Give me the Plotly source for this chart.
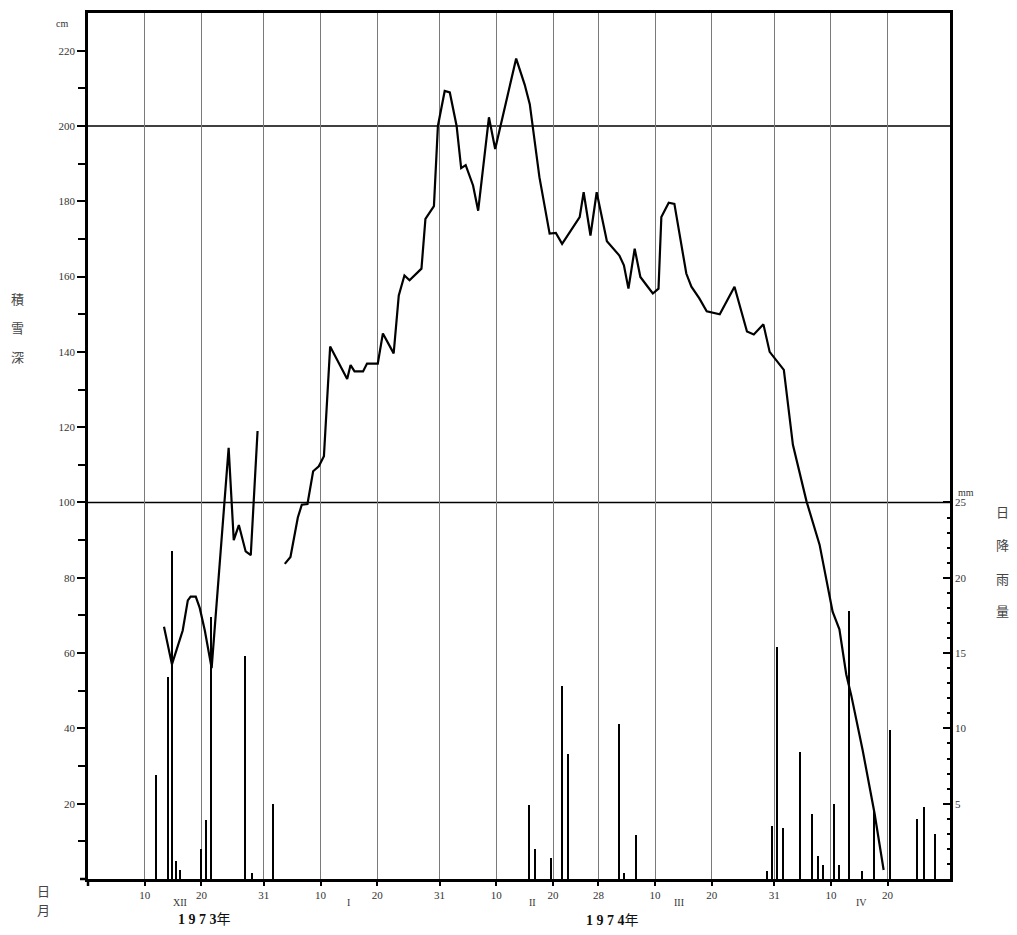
import plotly.graph_objects as go

# Day index: 1 = 1 Dec 1973, 32 = 1 Jan 1974, ... (axis spans day 0 to 152)
# Snow depth (cm), two observation runs
depth_days_a = [13.4, 14.8, 16.7, 17.6, 18.1, 19.0, 19.7, 20.6, 21.8, 24.8, 25.7, 26.6, 27.8, 28.7, 29.9]
depth_cm_a = [67, 57, 66, 74, 75, 75, 72, 66, 56, 114.5, 90, 94, 87, 86, 119]

depth_days_b = [34.7, 35.7, 37.0, 37.7, 38.7, 39.7, 40.7, 41.6, 42.7, 45.7,
                46.3, 47.0, 48.5, 49.2, 51.1, 52.0, 53.9, 54.8, 55.8, 56.7,
                58.8, 59.5, 61.0, 61.7, 62.9, 63.8, 65.0, 65.8, 66.6, 67.9,
                68.8, 70.7, 71.8, 75.5, 77.0, 77.9, 79.6, 81.4, 82.5, 83.6,
                86.7, 87.4, 88.6, 89.7, 91.5, 93.7, 94.5, 95.3, 96.4, 97.4,
                98.7, 99.6, 100.6, 101.1, 102.4, 103.4, 105.5, 106.4, 107.8, 109.1,
                111.4, 114.0, 116.2, 117.4, 119.1, 120.2, 122.7, 124.3, 126.7, 129.0,
                131.3, 132.5, 133.7, 134.6, 136.6, 138.7, 140.3]
depth_cm_b = [83.7, 85.5, 96, 99.4, 99.6, 108.3, 109.6, 112.3, 141.4, 132.8,
              136.5, 134.8, 134.8, 136.9, 136.9, 144.9, 139.6, 155, 160.3, 159,
              162.1, 175.3, 178.7, 200, 209.3, 208.9, 200, 188.8, 189.6, 184.2,
              177.5, 202.3, 193.9, 217.9, 211, 205.8, 186.4, 171.4, 171.6, 168.7,
              175.8, 182.4, 170.9, 182.4, 169.4, 165.6, 163, 156.8, 167.4, 159.9,
              157.3, 155.5, 156.8, 175.8, 179.6, 179.3, 160.8, 157.3, 154.2, 150.8,
              150, 157.3, 145.4, 144.6, 147.3, 140, 135.2, 115.3, 100.3, 88.8,
              71, 66.3, 54.4, 48.7, 34.2, 17.4, 2.4]

# Daily precipitation (mm)
rain_days = [12.1, 14.1, 14.8, 15.5, 16.2, 19.9, 20.9, 21.8, 27.8, 29.0, 32.7,
             77.8, 78.8, 81.7, 83.7, 84.7, 93.6, 94.5, 96.7,
             119.7, 120.7, 121.6, 122.6, 125.6, 127.7, 128.7, 129.7, 131.5, 132.5,
             134.3, 136.6, 138.7, 141.4, 146.2, 147.4, 149.4]
rain_mm = [6.9, 13.4, 21.8, 1.2, 0.6, 2.0, 3.9, 17.4, 14.8, 0.4, 5.0,
           4.9, 2.0, 1.4, 12.8, 8.3, 10.3, 0.4, 2.9,
           0.5, 3.5, 15.4, 3.4, 8.4, 4.3, 1.5, 0.9, 5.0, 0.9,
           17.8, 0.5, 4.6, 9.9, 4.0, 4.8, 3.0]

# Date ticks (day index) and their labels
date_ticks = [10, 20, 31, 41, 51, 62, 72, 82, 90, 100, 110, 121, 131, 141]
date_labels = ["10", "20", "31", "10", "20", "31", "10", "20", "28", "10", "20", "31", "10", "20"]
month_pos = [16.2, 46.0, 78.4, 104.3, 136.4]
month_labels = ["XII", "I", "II", "III", "IV"]

depth_ticks = [20, 40, 60, 80, 100, 120, 140, 160, 180, 200, 220]
rain_ticks = [5, 10, 15, 20, 25]

SERIF = "Liberation Serif, DejaVu Serif, serif"
CJK = "Noto Sans CJK JP, Noto Sans CJK SC, sans-serif"

# Plot-area box in pixels (figure 1017 x 935)
L, R, T, B = 88, 950, 10, 879
PW, PH = R - L, B - T

fig = go.Figure()

fig.add_trace(go.Bar(
    x=rain_days, y=rain_mm, yaxis="y2", width=0.26,
    marker=dict(color="black", line=dict(width=0)), showlegend=False,
))
for dx, dy in ((depth_days_a, depth_cm_a), (depth_days_b, depth_cm_b)):
    fig.add_trace(go.Scatter(
        x=dx, y=dy, mode="lines", line=dict(color="black", width=2.2),
        showlegend=False,
    ))

# Reference lines at 100 and 200 cm
for level in (100, 200):
    fig.add_shape(type="line", xref="paper", x0=0, x1=1, yref="y", y0=level, y1=level,
                  line=dict(color="black", width=1.5), layer="below")
# Axis stubs past the origin
fig.add_shape(type="line", xref="paper", yref="paper", x0=-8 / PW, x1=0, y0=0, y1=0,
              line=dict(color="black", width=2.5))
fig.add_shape(type="line", xref="paper", yref="paper", x0=0, x1=0, y0=-7 / PH, y1=0,
              line=dict(color="black", width=2.5))

fig.update_layout(
    width=1017, height=935,
    margin=dict(l=L, r=1017 - R, t=T, b=935 - B),
    paper_bgcolor="white", plot_bgcolor="white",
    bargap=0,
    xaxis=dict(
        range=[0, 152], tickmode="array", tickvals=date_ticks, ticktext=date_labels,
        showgrid=True, gridcolor="#7a7a7a", gridwidth=1,
        showline=True, linecolor="black", linewidth=2.5, mirror=True,
        ticks="outside", ticklen=4, tickcolor="black", tickwidth=1.5,
        tickfont=dict(family=SERIF, size=11, color="#333"),
        zeroline=False, fixedrange=True,
    ),
    yaxis=dict(
        range=[0, 230], tickmode="array", tickvals=depth_ticks,
        showgrid=False, zeroline=False,
        showline=True, linecolor="black", linewidth=2.5,
        ticks="outside", ticklen=8, tickwidth=2, tickcolor="black",
        minor=dict(tickvals=[10, 30, 50, 70, 90, 110, 130, 150, 170, 190, 210],
                   ticks="outside", ticklen=7, tickwidth=2, tickcolor="black"),
        tickfont=dict(family=SERIF, size=11, color="#333"),
        fixedrange=True,
    ),
    yaxis2=dict(
        range=[0, 57.5], overlaying="y", side="right",
        tickmode="array", tickvals=rain_ticks,
        showgrid=False, zeroline=False,
        showline=True, linecolor="black", linewidth=2.5,
        ticks="inside", ticklen=7, tickwidth=2, tickcolor="black",
        minor=dict(tickvals=[v for v in range(1, 25) if v % 5],
                   ticks="inside", ticklen=3, tickwidth=1.5, tickcolor="black"),
        tickfont=dict(family=SERIF, size=11, color="#333"),
        fixedrange=True,
    ),
)


def px(xp, yp, text, size=13, color="#444", family=CJK):
    """Annotation centred on a figure pixel position."""
    return dict(x=(xp - L) / PW, y=(B - yp) / PH, xref="paper", yref="paper",
                xanchor="center", yanchor="middle", text=text, showarrow=False,
                font=dict(family=family, size=size, color=color))


ann = []
# Month numerals under the date labels
for pos, lab in zip(month_pos, month_labels):
    ann.append(dict(x=pos, y=(B - 903) / PH, xref="x", yref="paper",
                    xanchor="center", yanchor="middle", text=lab, showarrow=False,
                    font=dict(family=SERIF, size=10, color="#333")))
# Years
YEAR_FONT = dict(family="Liberation Serif, Noto Sans CJK JP", size=14, color="#111")
ann.append(dict(x=20.6, y=(B - 920) / PH, xref="x", yref="paper", xanchor="center",
                yanchor="middle", text="<b>1 9 7 3</b>年", showarrow=False, font=YEAR_FONT))
ann.append(dict(x=92.5, y=(B - 921) / PH, xref="x", yref="paper", xanchor="center",
                yanchor="middle", text="<b>1 9 7 4</b>年", showarrow=False, font=YEAR_FONT))
# Units
ann.append(px(62, 21, "cm", size=10, color="#333", family=SERIF))
ann.append(px(966, 491, "mm", size=10, color="#333", family=SERIF))
# Stacked axis titles
for ch, yp in zip("積雪深", (296, 326, 355)):
    ann.append(px(17, yp, ch))
for ch, yp in zip("日降雨量", (510, 543, 577, 610)):
    ann.append(px(1003, yp, ch))
ann.append(px(43, 891, "日"))
ann.append(px(43, 910, "月"))

fig.update_layout(annotations=ann)

fig.write_html("out.html")
